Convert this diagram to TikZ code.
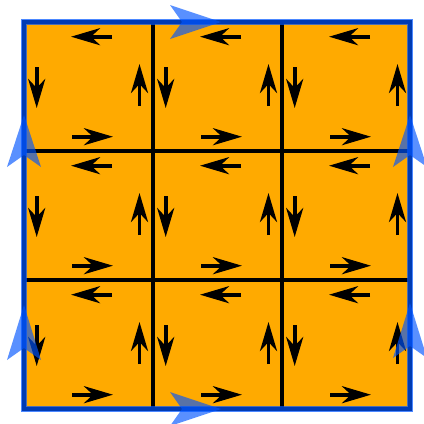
\documentclass[tikz,border=0pt]{standalone}
\usepackage{tikz}
\usetikzlibrary{arrows.meta}
\definecolor{CellOrange}{HTML}{FFAA00}
\definecolor{EdgeBlue}{HTML}{0055FF}
\tikzset{
  gridline/.style={line width=3.8pt, draw=black},
  borderline/.style={line width=6pt, draw=EdgeBlue, opacity=0.7},
  cellarrow/.style={-{Stealth[length=29pt, width=17pt, inset=9pt]}, line width=3.8pt},
  shiftmark/.style={fill=EdgeBlue, opacity=0.65}
}

\begin{document}
\begin{tikzpicture}[x=1pt, y=-1pt]
  \useasboundingbox (0,0) rectangle (424,424);
  \coordinate (nw) at (24,22);
  \coordinate (se) at (410,409);
  \fill[CellOrange] (nw) rectangle (se);

  % cell edges
  \draw[gridline] (nw) rectangle (se);
  \foreach \gx in {153,282}
    \draw[gridline] (\gx,22) -- (\gx,409);
  \foreach \gy in {151,280}
    \draw[gridline] (24,\gy) -- (410,\gy);

  % four arrows in every cell
  \foreach \cx in {24,153,282}
    \foreach \cy in {22,151,280} {
      \draw[cellarrow] (\cx+88,\cy+14.7) -- (\cx+47,\cy+14.7);
      \draw[cellarrow] (\cx+48,\cy+114.7) -- (\cx+89,\cy+114.7);
      \draw[cellarrow] (\cx+12.7,\cy+45) -- (\cx+12.7,\cy+86);
      \draw[cellarrow] (\cx+115.5,\cy+84) -- (\cx+115.5,\cy+42);
    }

  % outer edge
  \draw[borderline] (nw) rectangle (se);

  % boundary marks
  \foreach \px/\py/\ang/\len in {170/22/0/51, 170/409/0/51,
                                 24/167/90/52, 24/360/90/55,
                                 410/167/90/52, 410/358/90/55}
    \fill[shiftmark, shift={(\px,\py)}, rotate=\ang]
      (0,-17) -- (12,0) -- (0,17) -- (\len,0) -- cycle;
\end{tikzpicture}
\end{document}
